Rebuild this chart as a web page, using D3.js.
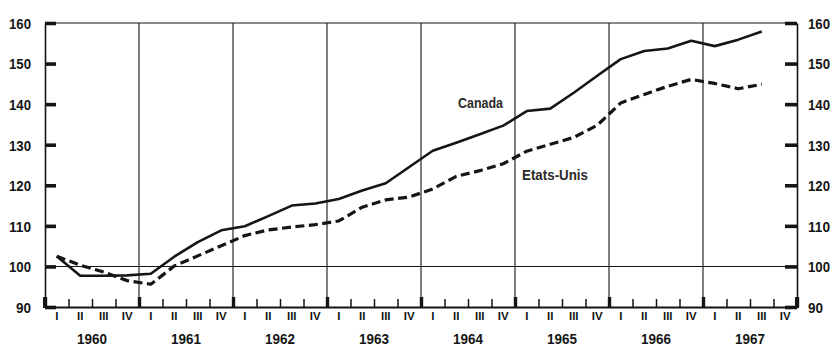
<!DOCTYPE html>
<html><head><meta charset="utf-8">
<script src="https://cdn.jsdelivr.net/npm/d3@7"></script>
<style>html,body{margin:0;padding:0;background:#fff}svg{display:block}</style>
</head><body>
<svg id="chart" width="835" height="347"></svg>
<script>
// ---- data ----
const years = [1960, 1961, 1962, 1963, 1964, 1965, 1966, 1967];
const quarterLabels = ["I", "II", "III", "IV"];
const yTicks = [90, 100, 110, 120, 130, 140, 150, 160];
// quarterly index, 1960 Q1 .. 1967 Q3
const canada = [102.5, 97.7, 97.7, 97.8, 98.2, 102.4, 106.0, 108.9, 109.9, 112.4, 115.0, 115.5, 116.6, 118.7, 120.5, 124.5,
                128.5, 130.5, 132.6, 134.7, 138.3, 138.9, 142.8, 147.0, 151.1, 153.1, 153.7, 155.6, 154.3, 155.9, 157.9];
const etatsUnis = [102.5, 100.3, 98.6, 96.5, 95.6, 100.1, 102.6, 105.1, 107.6, 109.0, 109.7, 110.3, 111.2, 114.6, 116.4, 117.1,
                   119.1, 122.2, 123.6, 125.3, 128.4, 130.1, 131.8, 134.8, 140.3, 142.4, 144.4, 146.1, 145.1, 143.8, 144.9];
const seriesNames = ["Canada", "Etats-Unis"];

// ---- drawing ----
const FONT = "'Liberation Sans',Arial,sans-serif";
const INK = "#151515";
const svg = d3.select("#chart");
const nQ = years.length * 4;
const x = d3.scaleLinear().domain([0, nQ]).range([45, 797]);
const y = d3.scaleLinear().domain([90, 160]).range([307, 23]);

// grid: vertical year lines, horizontal 100 and 160 lines
const grid = svg.append("g").attr("stroke", INK).attr("stroke-width", 1.1);
grid.selectAll("line.v").data(d3.range(1, years.length)).join("line")
  .attr("x1", d => x(d * 4)).attr("x2", d => x(d * 4))
  .attr("y1", y(160)).attr("y2", y(90));
grid.selectAll("line.h").data([100, 160]).join("line")
  .attr("x1", x(0)).attr("x2", x(nQ))
  .attr("y1", d => y(d)).attr("y2", d => y(d));

// left axis
const left = svg.append("g").attr("transform", `translate(${x(0)},0)`)
  .call(d3.axisLeft(y).tickValues(yTicks).tickSize(-11).tickSizeOuter(0).tickPadding(14).tickFormat(d3.format("d")));
// right axis
const right = svg.append("g").attr("transform", `translate(${x(nQ)},0)`)
  .call(d3.axisRight(y).tickValues(yTicks).tickSize(-12).tickSizeOuter(0).tickPadding(11).tickFormat(d3.format("d")));
[left, right].forEach(g => {
  g.select(".domain").attr("stroke", INK).attr("stroke-width", 1.6);
  g.selectAll(".tick line").attr("stroke", INK).attr("stroke-width", 3.6);
  g.selectAll(".tick text").attr("fill", INK).attr("font-family", FONT)
    .attr("font-weight", "bold").attr("font-size", 15).attr("dy", "0.36em")
    .attr("textLength", d => (d >= 100 ? 22 : 15)).attr("lengthAdjust", "spacingAndGlyphs");
});

// bottom axis: quarter ticks
const bottom = svg.append("g").attr("transform", `translate(0,${y(90)})`)
  .call(d3.axisBottom(x).tickValues(d3.range(0, nQ + 1)).tickSize(-9).tickSizeOuter(0).tickFormat(""));
bottom.select(".domain").attr("stroke", INK).attr("stroke-width", 1.8);
bottom.selectAll(".tick line").attr("stroke", INK)
  .attr("stroke-width", d => (d % 4 === 0 ? 3.4 : 1.5))
  .attr("y2", d => (d % 4 === 0 ? -10 : -8));

// corner marks
svg.append("g").attr("stroke", INK).attr("stroke-width", 4).selectAll("line")
  .data([0, nQ]).join("line")
  .attr("x1", d => x(d)).attr("x2", d => x(d))
  .attr("y1", y(90) - 10).attr("y2", y(90) + 1);

// quarter labels
const qData = d3.range(nQ).map(i => ({ i, label: quarterLabels[i % 4] }));
svg.append("g").selectAll("text").data(qData).join("text")
  .attr("x", d => x(d.i + 0.5)).attr("y", 320)
  .attr("text-anchor", "middle").attr("font-family", FONT).attr("font-weight", "bold")
  .attr("font-size", 11.5).attr("fill", INK).text(d => d.label);
// year labels
svg.append("g").selectAll("text").data(years).join("text")
  .attr("x", (d, i) => x(i * 4 + 2)).attr("y", 344)
  .attr("text-anchor", "middle").attr("font-family", FONT).attr("font-weight", "bold")
  .attr("font-size", 15).attr("fill", INK)
  .attr("textLength", 30).attr("lengthAdjust", "spacingAndGlyphs").text(d => d);

// series lines
const line = d3.line().x((d, i) => x(i + 0.5)).y(d => y(d));
svg.append("path").datum(etatsUnis).attr("d", line)
  .attr("fill", "none").attr("stroke", INK).attr("stroke-width", 3.2)
  .attr("stroke-dasharray", "9,4.5").attr("stroke-linejoin", "round");
svg.append("path").datum(canada).attr("d", line)
  .attr("fill", "none").attr("stroke", INK).attr("stroke-width", 2.6)
  .attr("stroke-linejoin", "round");

// series labels
svg.append("text").attr("x", 458).attr("y", 108)
  .attr("font-family", FONT).attr("font-weight", "bold").attr("font-size", 15)
  .attr("textLength", 45).attr("lengthAdjust", "spacingAndGlyphs")
  .attr("fill", "#2a2a2a").text(seriesNames[0]);
svg.append("text").attr("x", 522).attr("y", 180)
  .attr("font-family", FONT).attr("font-weight", "bold").attr("font-size", 15.5)
  .attr("textLength", 66).attr("lengthAdjust", "spacingAndGlyphs")
  .attr("fill", "#2a2a2a").text(seriesNames[1]);
</script>
</body></html>
